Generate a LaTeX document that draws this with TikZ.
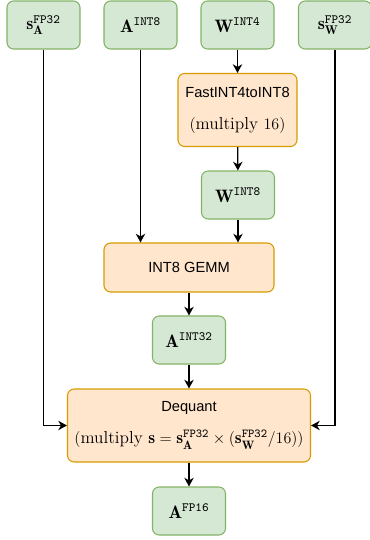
\documentclass[tikz,border=0pt]{standalone}
\usepackage{amsmath,amssymb}
\usepackage{fontspec}
\newfontfamily\drawfont{Liberation Sans}
\usetikzlibrary{arrows.meta}
\definecolor{gfill}{HTML}{D5E8D4}
\definecolor{gline}{HTML}{82B366}
\definecolor{ofill}{HTML}{FFE6CC}
\definecolor{oline}{HTML}{D79B00}
\tikzstyle{arrow} = [line width=1pt,->,>={Stealth[length=6.5pt,width=7pt,inset=2pt]}]
\tikzstyle{tensor} = [draw=gline,fill=gfill,line width=0.8pt,rounded corners=5pt,minimum width=54.75pt,minimum height=36pt,inner sep=0pt,font=\fontsize{13.5}{16}\selectfont]
\tikzstyle{op} = [draw=oline,fill=ofill,line width=0.8pt,rounded corners=5pt,inner sep=0pt,align=center,font=\fontsize{11}{13}\selectfont]

\begin{document}
\begin{tikzpicture}[x=0.75pt,y=-0.75pt]
        \useasboundingbox (0,0) rectangle (369,540);
        % inputs
        \node[tensor] (sa) at (43.5,25) {$\mathbf{s}_{\mathbf{A}}^{\texttt{FP32}}$};
        \node[tensor] (aint8) at (140.5,25) {$\mathbf{A}^{\texttt{INT8}}$};
        \node[tensor] (wint4) at (237.5,25) {$\mathbf{W}^{\texttt{INT4}}$};
        \node[tensor] (sw) at (335,25) {$\mathbf{s}_{\mathbf{W}}^{\texttt{FP32}}$};
        % weight path
        \node[op,minimum width=89.25pt,minimum height=54.75pt] (fast) at (237.5,110)
            {{\drawfont FastINT4toINT8}\\[11pt]{\fontsize{13}{15}\selectfont$(\text{multiply }16)$}};
        \node[tensor] (wint8) at (238,195) {$\mathbf{W}^{\texttt{INT8}}$};
        % gemm + dequant
        \node[op,minimum width=127.5pt,minimum height=36.75pt] (gemm) at (189,267.5) {\drawfont INT8 GEMM};
        \node[tensor] (aint32) at (189,340) {$\mathbf{A}^{\texttt{INT32}}$};
        \node[op,minimum width=182.25pt,minimum height=54.75pt] (dequant) at (189,425.5)
            {{\drawfont Dequant}\\[11pt]{\fontsize{13}{15}\selectfont$(\text{multiply }\mathbf{s}=\mathbf{s}_{\mathbf{A}}^{\texttt{FP32}}\times(\mathbf{s}_{\mathbf{W}}^{\texttt{FP32}}/16))$}};
        \node[tensor] (afp16) at (189,511) {$\mathbf{A}^{\texttt{FP16}}$};
        % connectors
        \draw[arrow] (wint4) -- (fast);
        \draw[arrow] (fast) -- (wint8);
        \draw[arrow] (wint8) -- (wint8 |- gemm.north);
        \draw[arrow] (aint8) -- (aint8 |- gemm.north);
        \draw[arrow] (gemm) -- (aint32);
        \draw[arrow] (aint32) -- (dequant);
        \draw[arrow] (dequant) -- (afp16);
        \draw[arrow] (sa) |- (dequant);
        \draw[arrow] (sw) |- (dequant);
    \end{tikzpicture}
\end{document}
